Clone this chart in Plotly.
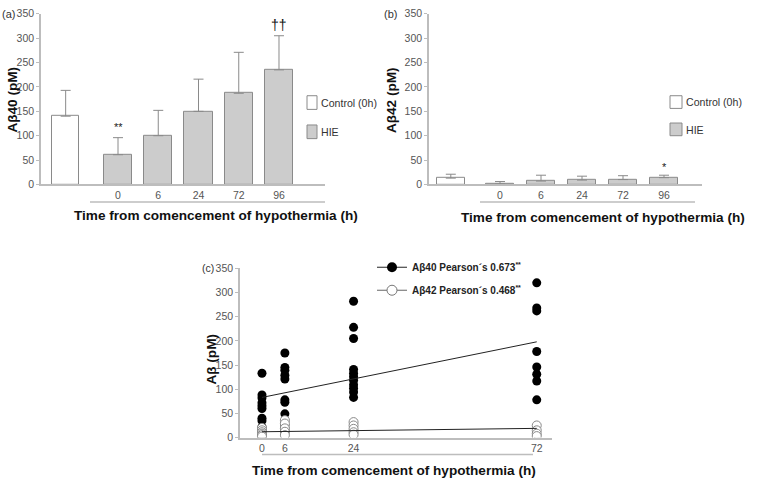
import plotly.graph_objects as go

# ---------------- data ----------------
hie_labels = ["0", "6", "24", "72", "96"]
legend_labels = ["Control (0h)", "HIE"]

ab40_control_mean = [140]
ab40_control_sd = [53]
ab40_hie_mean = [61, 100, 150, 187, 235]
ab40_hie_sd = [35, 52, 66, 84, 70]

ab42_control_mean = [13]
ab42_control_sd = [8]
ab42_hie_mean = [1, 7, 9, 10, 14]
ab42_hie_sd = [5, 12, 8, 8, 5]

scatter_hours = [0, 6, 24, 72]
ab40_points = [
    [133, 88, 82, 72, 66, 60, 40, 35, 22, 15, 8, 3],
    [175, 145, 139, 129, 121, 78, 73, 49, 26, 20, 12],
    [282, 228, 205, 141, 133, 126, 118, 109, 102, 94, 83],
    [320, 268, 262, 178, 146, 131, 117, 78],
]
ab42_points = [
    [20, 15, 11, 8, 5, 2],
    [36, 29, 19, 12, 5],
    [32, 25, 18, 11, 6],
    [25, 15, 8, 3],
]
trend_hours = [0, 72]
ab40_fit = [83, 198]
ab42_fit = [12, 19]
legend_c = ["Aβ40 Pearson´s 0.673<sup>**</sup>", "Aβ42 Pearson´s 0.468<sup>**</sup>"]

# ---------------- helpers ----------------
W, H = 760, 485
def fx(px):
    return px / W
def fy(py):
    return 1 - py / H

FONT = "Liberation Sans, Arial, sans-serif"
AXC = "#bdbdbd"
TICKC = "#555555"
BARLINE = "#8a8a8a"
HIEFILL = "#cccccc"

fig = go.Figure()

def flat(groups, keys):
    xs, ys = [], []
    for k, g in zip(keys, groups):
        xs += [k] * len(g)
        ys += g
    return xs, ys

# ---------- panel (a) ----------
ctrl_pos_a = -1.30
hie_pos = list(range(len(hie_labels)))
fig.add_trace(go.Bar(
    x=[ctrl_pos_a], y=ab40_control_mean, width=0.68, xaxis="x", yaxis="y",
    marker=dict(color="white", line=dict(color=BARLINE, width=1)),
    error_y=dict(type="data", array=ab40_control_sd, arrayminus=[0], symmetric=False,
                 color=BARLINE, thickness=1, width=5),
    showlegend=False, name=legend_labels[0]))
fig.add_trace(go.Bar(
    x=hie_pos, y=ab40_hie_mean, width=0.70, xaxis="x", yaxis="y",
    marker=dict(color=HIEFILL, line=dict(color=BARLINE, width=1)),
    error_y=dict(type="data", array=ab40_hie_sd, arrayminus=[0] * 5, symmetric=False,
                 color=BARLINE, thickness=1, width=5),
    showlegend=False, name=legend_labels[1]))

# ---------- panel (b) ----------
ctrl_pos_b = -1.20
fig.add_trace(go.Bar(
    x=[ctrl_pos_b], y=ab42_control_mean, width=0.68, xaxis="x2", yaxis="y2",
    marker=dict(color="white", line=dict(color=BARLINE, width=1)),
    error_y=dict(type="data", array=ab42_control_sd, arrayminus=[0], symmetric=False,
                 color=BARLINE, thickness=1, width=5),
    showlegend=False, name=legend_labels[0]))
fig.add_trace(go.Bar(
    x=hie_pos, y=ab42_hie_mean, width=0.70, xaxis="x2", yaxis="y2",
    marker=dict(color=HIEFILL, line=dict(color=BARLINE, width=1)),
    error_y=dict(type="data", array=ab42_hie_sd, arrayminus=[0] * 5, symmetric=False,
                 color=BARLINE, thickness=1, width=5),
    showlegend=False, name=legend_labels[1]))

# ---------- panel (c) ----------
x40, y40 = flat(ab40_points, scatter_hours)
x42, y42 = flat(ab42_points, scatter_hours)
fig.add_trace(go.Scatter(x=x40, y=y40, mode="markers", xaxis="x3", yaxis="y3",
                         marker=dict(color="black", size=9), showlegend=False))
fig.add_trace(go.Scatter(x=trend_hours, y=ab40_fit, mode="lines", xaxis="x3", yaxis="y3",
                         line=dict(color="#222222", width=1), showlegend=False))
fig.add_trace(go.Scatter(x=x42, y=y42, mode="markers", xaxis="x3", yaxis="y3",
                         marker=dict(color="white", size=9, line=dict(color="#888888", width=1)),
                         showlegend=False))
fig.add_trace(go.Scatter(x=trend_hours, y=ab42_fit, mode="lines", xaxis="x3", yaxis="y3",
                         line=dict(color="#222222", width=1), showlegend=False))
# legend entries
fig.add_trace(go.Scatter(x=[None], y=[None], mode="lines+markers", xaxis="x3", yaxis="y3",
                         name=legend_c[0], legendgroup="a",
                         line=dict(color="#222222", width=1),
                         marker=dict(color="black", size=10)))
fig.add_trace(go.Scatter(x=[None], y=[None], mode="lines+markers", xaxis="x3", yaxis="y3",
                         name=legend_c[1], legendgroup="b",
                         line=dict(color="#666666", width=1),
                         marker=dict(color="white", size=10, line=dict(color="#777777", width=1))))

tickfont = dict(family=FONT, size=10.5, color=TICKC)
common_x = dict(showline=True, linecolor=AXC, linewidth=1.5, showgrid=False, zeroline=False,
                ticks="", tickfont=tickfont, fixedrange=True)
common_y = dict(showline=True, linecolor=AXC, linewidth=1.5, showgrid=False, zeroline=False,
                ticks="outside", ticklen=3, tickcolor=AXC, tickfont=tickfont,
                range=[0, 350], tick0=0, dtick=50, fixedrange=True)

fig.update_layout(
    width=W, height=H, autosize=False,
    margin=dict(l=0, r=0, t=0, b=0),
    paper_bgcolor="white", plot_bgcolor="white",
    font=dict(family=FONT, color="#333333"),
    bargap=0,
    xaxis=dict(common_x, domain=[fx(41), fx(325)], range=[-1.913, 5.143],
               tickvals=hie_pos, ticktext=hie_labels, anchor="y"),
    yaxis=dict(common_y, domain=[fy(183), fy(8)], anchor="x"),
    xaxis2=dict(common_x, domain=[fx(429), fx(702)], range=[-1.732, 4.927],
                tickvals=hie_pos, ticktext=hie_labels, anchor="y2"),
    yaxis2=dict(common_y, domain=[fy(183), fy(8)], anchor="x2"),
    xaxis3=dict(common_x, domain=[fx(240), fx(552)], range=[-5.76, 76],
                tickvals=scatter_hours, ticktext=[str(h) for h in scatter_hours], anchor="y3"),
    yaxis3=dict(common_y, domain=[fy(442.5), fy(269)], anchor="x3"),
    legend=dict(x=fx(372), y=fy(253), xanchor="left", yanchor="top",
                bgcolor="rgba(0,0,0,0)", borderwidth=0,
                font=dict(family=FONT, size=10, color="#222222", weight="bold"),
                traceorder="grouped", tracegroupgap=4),
)

shapes = []
annotations = []
def line_shape(x0, x1, y):
    shapes.append(dict(type="line", xref="paper", yref="paper",
                       x0=fx(x0), x1=fx(x1), y0=fy(y), y1=fy(y),
                       line=dict(color=AXC, width=1.5)))
line_shape(90, 325, 201)
line_shape(480, 695, 201)
line_shape(262, 533, 460)

def box(x0, x1, y0, y1, fill):
    shapes.append(dict(type="rect", xref="paper", yref="paper",
                       x0=fx(x0), x1=fx(x1), y0=fy(y1), y1=fy(y0),
                       fillcolor=fill, line=dict(color=BARLINE, width=1)))

def text(s, x, y, size=10.6, xanchor="left", color="#333333", bold=False, angle=0):
    annotations.append(dict(text=("<b>%s</b>" % s) if bold else s, xref="paper", yref="paper",
                            x=fx(x), y=fy(y), xanchor=xanchor, yanchor="middle",
                            showarrow=False, textangle=angle,
                            font=dict(family=FONT, size=size, color=color)))

# legends a & b
box(307, 317, 92, 106, "white")
box(307, 317, 122, 136, HIEFILL)
text(legend_labels[0], 319, 99)
text(legend_labels[1], 319, 129)
box(670, 682, 92, 105, "white")
box(670, 682, 120, 133, HIEFILL)
text(legend_labels[0], 684, 98.5)
text(legend_labels[1], 684, 127)

# panel labels
text("(a)", 0, 8, size=11)
text("(b)", 382, 8, size=11)
text("(c)", 200, 269, size=10.5)

# axis titles
xt = "Time from comencement of hypothermia (h)"
text(xt, 215.5, 215, size=13.6, xanchor="center", color="#111111", bold=True)
text(xt, 603, 217, size=13.6, xanchor="center", color="#111111", bold=True)
text(xt, 394, 476, size=13.6, xanchor="center", color="#111111", bold=True)
text("Aβ40 (pM)", 13, 96, size=13.6, xanchor="center", color="#111111", bold=True, angle=-90)
text("Aβ42 (pM)", 391.5, 97, size=13.6, xanchor="center", color="#111111", bold=True, angle=-90)
text("Aβ (pM)", 211.5, 362, size=13.6, xanchor="center", color="#111111", bold=True, angle=-90)

# significance marks
text("**", 118, 124, size=11, xanchor="center", color="#222222")
text("††", 279, 19, size=14, xanchor="center", color="#111111")
text("*", 664, 165, size=11, xanchor="center", color="#222222")

fig.update_layout(shapes=shapes, annotations=annotations)
fig.write_html("out.html", config={"displayModeBar": False},
               post_script="document.body.style.margin='0';document.body.style.overflow='hidden';")
